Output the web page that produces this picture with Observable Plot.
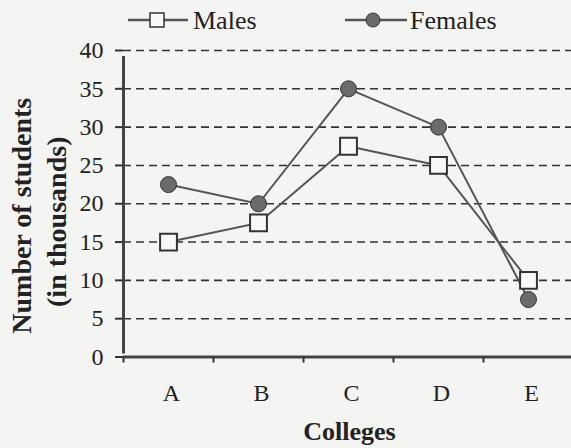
<!DOCTYPE html>
<html>
<head>
<meta charset="utf-8">
<script src="https://cdn.jsdelivr.net/npm/d3@7"></script>
<script src="https://cdn.jsdelivr.net/npm/@observablehq/plot@0.6"></script>
<style>
  html, body { margin: 0; padding: 0; background: #f4f4f2; }
  #wrap { width: 571px; height: 448px; position: relative; overflow: hidden; font-family: "Liberation Serif", "Times New Roman", serif; }
  #legend { height: 40px; position: relative; }
  #legend svg { position: absolute; left: 0; top: 0; }
  #chart svg { overflow: visible; }
</style>
</head>
<body>
<div id="wrap">
  <div id="legend"></div>
  <div id="chart"></div>
</div>
<script>
const colleges = ["A", "B", "C", "D", "E"];
const males = [15, 17.5, 27.5, 25, 10];
const females = [22.5, 20, 35, 30, 7.5];
const yTicks = [0, 5, 10, 15, 20, 25, 30, 35, 40];
const seriesNames = ["Males", "Females"];
const yTitle = ["Number of students", "(in thousands)"];
const xTitle = "Colleges";

const data = colleges.flatMap((c, i) => [
  {college: c, i, series: "Males", value: males[i]},
  {college: c, i, series: "Females", value: females[i]}
]);

const ink = "#333";
const lineInk = "#555";
const femaleFill = "#6b6b6b";
const maleFill = "#f8f8f6";
const serif = "'Liberation Serif', 'Times New Roman', serif";

// Legend
const lg = d3.select("#legend").append("svg").attr("width", 571).attr("height", 40);
const legendItems = [
  {name: seriesNames[0], x0: 128, x1: 188, cx: 157, tx: 193, shape: "square"},
  {name: seriesNames[1], x0: 345, x1: 407, cx: 373, tx: 410, shape: "circle"}
];
for (const it of legendItems) {
  lg.append("line").attr("x1", it.x0).attr("x2", it.x1).attr("y1", 20).attr("y2", 20)
    .attr("stroke", lineInk).attr("stroke-width", 2.5);
  if (it.shape === "square") {
    lg.append("rect").attr("x", it.cx - 7).attr("y", 13).attr("width", 14).attr("height", 14)
      .attr("fill", maleFill).attr("stroke", ink).attr("stroke-width", 1.5);
  } else {
    lg.append("circle").attr("cx", it.cx).attr("cy", 20).attr("r", 7)
      .attr("fill", femaleFill).attr("stroke", ink).attr("stroke-width", 1);
  }
  lg.append("text").attr("x", it.tx).attr("y", 29).text(it.name)
    .attr("font-family", serif).attr("font-size", 26).attr("fill", "#222");
}

const n = colleges.length;
const chart = Plot.plot({
  width: 571,
  height: 408,
  marginTop: 10,
  marginBottom: 91.5,
  marginLeft: 123,
  marginRight: 0,
  style: {background: "transparent", fontFamily: serif, fontSize: "24px", color: "#222", overflow: "visible"},
  x: {type: "linear", domain: [0, n], range: [123, 573], axis: null},
  y: {domain: [0, 40], axis: null},
  marks: [
    Plot.ruleY(yTicks.filter(d => d > 0), {y: d => d, x1: 0, x2: n, stroke: ink, strokeWidth: 1.6, strokeDasharray: "8,5"}),
    Plot.ruleY([0], {x1: 0, x2: n, stroke: "#444", strokeWidth: 3}),
    Plot.ruleX([0], {y1: 0, y2: 40, stroke: "#444", strokeWidth: 3, insetBottom: -6, insetTop: -3}),
    Plot.axisY({ticks: yTicks, tickSize: 8, tickPadding: 12, fontSize: 24, stroke: ink, strokeWidth: 2, label: null}),
    Plot.axisX(d3.range(n + 1), {tickSize: 6, tickFormat: () => "", stroke: ink, strokeWidth: 2, label: null}),
    Plot.axisX(colleges.map((c, i) => i + 0.5), {tickSize: 0, tickPadding: 27, dx: 3, fontSize: 24, tickFormat: d => colleges[Math.floor(d)], label: null}),
    Plot.text([yTitle[0]], {frameAnchor: "left", textAnchor: "middle", rotate: -90, dx: -101, dy: 12, fontSize: 28, fontWeight: "bold", fill: "#222"}),
    Plot.text([yTitle[1]], {frameAnchor: "left", textAnchor: "middle", rotate: -90, dx: -66, dy: 18, fontSize: 28, fontWeight: "bold", fill: "#222"}),
    Plot.text([xTitle], {frameAnchor: "bottom", dx: 2, dy: 83, fontSize: 26, fontWeight: "bold", fill: "#222"}),
    Plot.line(data, {x: d => d.i + 0.5, y: "value", z: "series", stroke: lineInk, strokeWidth: 2}),
    Plot.dot(data.filter(d => d.series === "Females"), {x: d => d.i + 0.5, y: "value", r: 8, fill: femaleFill, stroke: ink, strokeWidth: 1}),
    Plot.dot(data.filter(d => d.series === "Males"), {x: d => d.i + 0.5, y: "value", symbol: "square", r: 9.5, fill: maleFill, stroke: ink, strokeWidth: 2})
  ]
});
document.getElementById("chart").appendChild(chart);
</script>
</body>
</html>
